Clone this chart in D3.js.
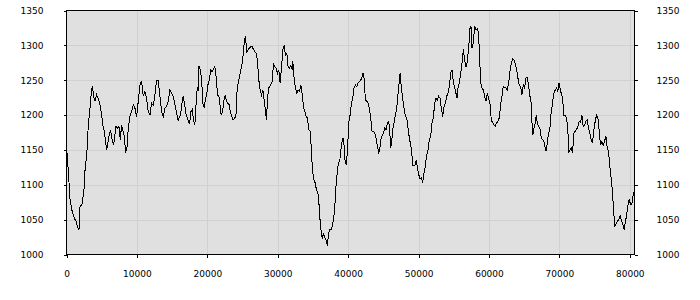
<!DOCTYPE html>
<head>
  <meta charset="utf-8">
  <style>
    body { margin: 0; background: #fff; }
    text { font: 9px "DejaVu Sans", sans-serif; fill: #000; }
    .grid line { stroke: #d0d0d0; shape-rendering: crispEdges; }
    .tick line { stroke: #000; shape-rendering: crispEdges; }
  </style>
</head>
<body>
  <svg width="700" height="300"></svg>
  <script src="https://d3js.org/d3.v7.min.js"></script>
  <script>

  // readings
  var xs = [0, 260, 497, 733, 922, 1206, 1348, 1584, 1774, 1916, 2199, 2483, 2625, 2909, 3098, 3335, 3476, 3666, 3855, 4044,
    4281, 4517, 4754, 4990, 5179, 5368, 5558, 5700, 5841, 6031, 6267, 6409, 6693, 6882, 7024, 7260, 7450, 7639, 7828, 8017,
    8206, 8396, 8585, 8774, 9011, 9247, 9484, 9720, 9957, 10193, 10430, 10666, 10903, 11139, 11376, 11612, 11849, 12085, 12322, 12558,
    12795, 13031, 13268, 13504, 13741, 13977, 14214, 14450, 14687, 14923, 15160, 15396, 15633, 15869,
    15964, 16201, 16437, 16579, 16815, 17005, 17241, 17478, 17667, 17856, 18045, 18234, 18424, 18566, 18707, 18802, 18944, 19180, 19370, 19559,
    19748, 19937, 20126, 20316, 20458, 20694, 20931, 21072, 21262, 21451, 21640, 21829, 21971, 22160, 22350, 22539, 22728, 22917, 23106, 23296,
    23485, 23674, 23863, 24052, 24242, 24478, 24715, 24951, 25140, 25282, 25424, 25613, 25802, 25992, 26181, 26370, 26559, 26748, 26938, 27127,
    27316, 27505, 27694, 27884, 28073, 28262, 28404, 28546, 28735, 28972, 29208, 29397, 29586, 29776, 29965, 30154, 30343, 30532, 30722, 30911,
    31100, 31289, 31478, 31668, 31857, 32046,
    32140, 32329, 32518, 32708, 32897, 33086, 33275, 33464, 33654, 33843, 34032, 34221, 34410, 34600, 34789, 34931, 35120, 35309, 35498, 35688,
    35829, 36019, 36208, 36350, 36492, 36681, 36870, 37059, 37201, 37390, 37580, 37769, 37958, 38100, 38289, 38478, 38620, 38809, 38999, 39140,
    39282, 39424, 39566, 39755, 39945, 40086, 40276, 40465, 40654, 40843, 41032, 41222, 41411, 41600, 41789, 41978, 42120, 42262, 42451, 42641,
    42830, 43019, 43208, 43397, 43587, 43776, 43965, 44154, 44343, 44485, 44627, 44816, 45006, 45195, 45384, 45573, 45762, 45904, 46046, 46188,
    46330, 46519, 46708, 46898, 47087, 47276, 47371, 47560, 47749, 47938, 48127,
    48317, 48506, 48695, 48885, 49027, 49168, 49358, 49547, 49689, 49831, 50020, 50209, 50398, 50587, 50777, 50966, 51155, 51344, 51533, 51723,
    51912, 52101, 52290, 52479, 52669, 52858, 53047, 53236, 53425, 53615, 53804, 53993, 54182, 54371, 54561, 54750, 54939, 55128, 55317, 55459,
    55601, 55790, 55980, 56169, 56358, 56547, 56736, 56926, 57115, 57304, 57446, 57588, 57777, 57966, 58155, 58345, 58487, 58628, 58818, 59007,
    59196, 59385, 59574, 59764, 59953, 60142, 60331, 60520, 60710, 60899, 61088, 61277, 61466, 61656, 61845, 62034, 62223, 62412, 62602, 62791,
    62980, 63169, 63358, 63548, 63737, 63926, 64115, 64304,
    64494, 64683, 64872, 65062, 65251, 65440, 65629, 65818, 65960, 66102, 66244, 66386, 66575, 66717, 66859, 67048, 67237, 67427, 67616, 67805,
    67994, 68136, 68278, 68467, 68656, 68798, 68940, 69082, 69224, 69413, 69602, 69792, 69934, 70075, 70265, 70454, 70643, 70832, 71021, 71211,
    71353, 71494, 71684, 71873, 72062, 72251, 72440, 72630, 72819, 73008, 73197, 73386, 73576, 73765, 73954, 74143, 74332, 74522, 74711, 74900,
    75089, 75278, 75468, 75657, 75846, 76035, 76224, 76414, 76603, 76792, 76981, 77123, 77265, 77454, 77596, 77738, 77880, 78069, 78258, 78448,
    78637, 78826, 79015, 79205, 79346, 79535, 79725, 79914, 80103, 80292, 80481, 80670];

  var ys = [1155, 1120, 1079, 1065, 1058, 1050, 1048, 1039, 1035, 1068, 1072, 1093, 1120, 1148, 1186, 1210, 1227, 1242, 1227, 1220,
    1229, 1224, 1215, 1200, 1184, 1177, 1162, 1150, 1157, 1170, 1179, 1167, 1157, 1172, 1184, 1181, 1184, 1165, 1186, 1177,
    1170, 1146, 1153, 1181, 1198, 1205, 1215, 1210, 1198, 1220, 1243, 1249, 1227, 1234, 1224, 1205, 1200, 1217, 1214, 1229,
    1250, 1250, 1227, 1205, 1198, 1210, 1212, 1220, 1236, 1231, 1227, 1215, 1203, 1191,
    1196, 1200, 1220, 1227, 1212, 1200, 1193, 1187, 1205, 1208, 1193, 1186, 1220, 1239, 1237, 1270, 1267, 1253, 1217, 1210,
    1224, 1231, 1246, 1250, 1265, 1262, 1267, 1270, 1253, 1229, 1227, 1212, 1200, 1205, 1220, 1229, 1220, 1217, 1215, 1203,
    1198, 1193, 1196, 1196, 1239, 1250, 1262, 1274, 1291, 1310, 1312, 1291, 1294, 1296, 1298, 1298, 1294, 1291, 1289, 1277,
    1250, 1236, 1229, 1236, 1222, 1205, 1193, 1224, 1239, 1243, 1248, 1274, 1269, 1267, 1260, 1265, 1246, 1267, 1294, 1300,
    1286, 1289, 1269, 1267, 1271, 1265,
    1277, 1253, 1239, 1231, 1236, 1234, 1243, 1231, 1212, 1205, 1198, 1196, 1179, 1177, 1150, 1120, 1108, 1103, 1093, 1089,
    1077, 1048, 1029, 1022, 1031, 1024, 1020, 1012, 1029, 1036, 1036, 1041, 1053, 1067, 1100, 1120, 1131, 1134, 1153, 1162,
    1167, 1157, 1134, 1129, 1157, 1189, 1200, 1217, 1224, 1239, 1243, 1241, 1246, 1248, 1250, 1255, 1260, 1253, 1222, 1220,
    1217, 1210, 1196, 1177, 1177, 1174, 1167, 1155, 1146, 1150, 1165, 1170, 1174, 1181, 1179, 1189, 1191, 1177, 1153, 1162,
    1179, 1189, 1200, 1210, 1231, 1250, 1260, 1239, 1224, 1210, 1198,
    1196, 1181, 1167, 1157, 1148, 1127, 1127, 1129, 1136, 1124, 1115, 1108, 1110, 1103, 1117, 1127, 1143, 1150, 1165, 1170,
    1189, 1196, 1217, 1224, 1222, 1227, 1224, 1210, 1198, 1212, 1217, 1227, 1231, 1241, 1260, 1265, 1248, 1239, 1231, 1224,
    1239, 1246, 1260, 1274, 1294, 1279, 1269, 1277, 1296, 1324, 1327, 1296, 1303, 1327, 1322, 1324, 1320, 1294, 1246, 1239,
    1236, 1227, 1220, 1231, 1224, 1217, 1193, 1189, 1186, 1184, 1189, 1191, 1196, 1215, 1227, 1241, 1239, 1239, 1236, 1246,
    1262, 1274, 1281, 1279, 1274, 1265, 1253, 1243,
    1241, 1229, 1243, 1239, 1253, 1254, 1243, 1227, 1222, 1191, 1172, 1181, 1189, 1200, 1189, 1184, 1181, 1167, 1165, 1162,
    1153, 1148, 1160, 1174, 1181, 1200, 1210, 1222, 1231, 1236, 1239, 1234, 1246, 1239, 1231, 1224, 1200, 1200, 1196, 1177,
    1146, 1150, 1153, 1146, 1174, 1177, 1179, 1184, 1191, 1189, 1200, 1184, 1186, 1191, 1193, 1181, 1174, 1165, 1160, 1179,
    1191, 1200, 1196, 1177, 1157, 1162, 1157, 1162, 1170, 1153, 1148, 1131, 1117, 1100, 1081, 1058, 1041, 1044, 1048, 1050,
    1055, 1048, 1044, 1035, 1046, 1055, 1070, 1079, 1072, 1072, 1086, 1092];

  var xTicks = [0, 10000, 20000, 30000, 40000, 50000, 60000, 70000, 80000];
  var yTicks = [1000, 1050, 1100, 1150, 1200, 1250, 1300, 1350];

  var svg = d3.select("svg"),
      plotL = 66.5, plotR = 634.5, plotT = 10.5, plotB = 254.5;

  var x = d3.scaleLinear().domain([0, 80670]).range([plotL, plotR]);
  var y = d3.scaleLinear().domain([1000, 1350]).range([plotB, plotT]);

  svg.append("rect")
      .attr("x", plotL).attr("y", plotT)
      .attr("width", plotR - plotL).attr("height", plotB - plotT)
      .attr("fill", "#e0e0e0");

  var grid = svg.append("g").attr("class", "grid");
  grid.selectAll(".gx")
    .data(xTicks.filter(function(d) { return d > 0; }))
    .enter().append("line")
      .attr("x1", function(d) { return Math.round(x(d)) + 0.5; })
      .attr("x2", function(d) { return Math.round(x(d)) + 0.5; })
      .attr("y1", plotT).attr("y2", plotB);
  grid.selectAll(".gy")
    .data(yTicks.filter(function(d) { return d > 1000 && d < 1350; }))
    .enter().append("line")
      .attr("y1", function(d) { return Math.round(y(d)) + 0.5; })
      .attr("y2", function(d) { return Math.round(y(d)) + 0.5; })
      .attr("x1", plotL).attr("x2", plotR);

  var line = d3.line()
      .x(function(d, i) { return x(xs[i]); })
      .y(function(d) { return y(d); });

  // aliased 1px line, like the original plot
  svg.append("path")
      .datum(ys)
      .attr("d", line)
      .attr("fill", "none")
      .attr("stroke", "#000")
      .attr("stroke-width", 1)
      .attr("shape-rendering", "crispEdges");

  svg.append("rect")
      .attr("x", plotL).attr("y", plotT)
      .attr("width", plotR - plotL).attr("height", plotB - plotT)
      .attr("fill", "none")
      .attr("stroke", "#000")
      .attr("shape-rendering", "crispEdges");

  var xAxis = d3.axisBottom(x).tickValues(xTicks).tickSize(3).tickPadding(13).tickFormat(d3.format("d"));
  var yLeft = d3.axisLeft(y).tickValues(yTicks).tickSize(3).tickPadding(20).tickFormat(d3.format("d"));
  var yRight = d3.axisRight(y).tickValues(yTicks).tickSize(3).tickPadding(19).tickFormat(d3.format("d"));

  [svg.append("g").attr("transform", "translate(0," + plotB + ")").call(xAxis),
   svg.append("g").attr("transform", "translate(" + plotL + ",0)").call(yLeft),
   svg.append("g").attr("transform", "translate(" + plotR + ",0)").call(yRight)]
    .forEach(function(g) {
      g.select(".domain").remove();
      g.selectAll("text").attr("font-family", null).attr("font-size", null);
    });

  </script>
</body>
</html>
